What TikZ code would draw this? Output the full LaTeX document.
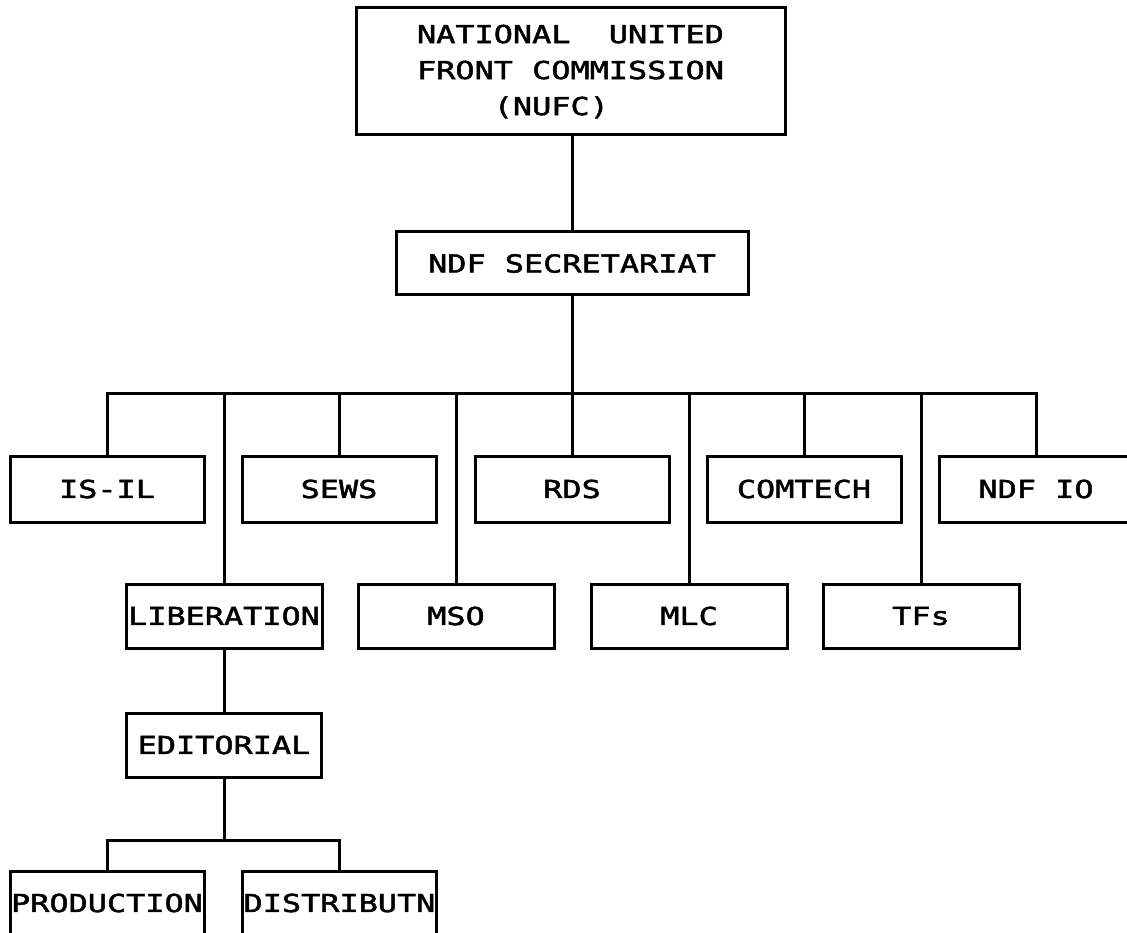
\documentclass[tikz,border=0pt]{standalone}
\usepackage{fontspec}
\newfontfamily\plotfont[FakeStretch=1.29,FakeBold=2]{DejaVu Sans Mono}
\begin{document}
\begin{tikzpicture}[x=1pt,y=-1pt,
        base/.style={draw,line width=3pt,inner sep=0pt,minimum height=64pt,
            font=\plotfont\fontsize{24.7}{36}\selectfont},
        unit/.style={base,minimum width=194pt},
        chief/.style={base,minimum width=429pt,minimum height=127pt,align=left},
        wire/.style={line width=3pt}]
    \useasboundingbox (0,0) rectangle (1127,933);
    % Commission and secretariat
    \node[chief] (nufc) at (570.5,71.5) {NATIONAL\ \ UNITED\\FRONT COMMISSION\\\phantom{NATI}(NUFC)};
    \node[base,minimum width=352pt,minimum height=63pt] (sec) at (572,263.5) {NDF SECRETARIAT};
    \coordinate (bus) at (572,393);
    % First row
    \node[unit,minimum height=66pt] (isil) at (107,489) {IS-IL};
    \node[unit,minimum height=66pt] (sews) at (339,489) {SEWS};
    \node[unit,minimum height=66pt] (rds) at (572,489) {RDS};
    \node[unit,minimum height=66pt] (comtech) at (804,489) {COMTECH};
    \node[unit,minimum height=66pt] (ndfio) at (1036,489) {NDF IO};
    % Second row
    \node[unit,minimum width=196pt] (lib) at (224,616) {LIBERATION};
    \node[unit,minimum width=196pt] (mso) at (456,616) {MSO};
    \node[unit,minimum width=196pt] (mlc) at (689,616) {MLC};
    \node[unit,minimum width=196pt] (tfs) at (921,616) {TFs};
    % Liberation branch
    \node[unit,minimum width=195pt] (edit) at (224,745) {EDITORIAL};
    \coordinate (fork) at (224,840);
    \node[unit] (prod) at (107,903) {PRODUCTION};
    \node[unit] (dist) at (339.5,903) {DISTRIBUTN};
    % Connectors
    \draw[wire] (nufc.south -| sec) -- (sec.north);
    \draw[wire] (sec.south) -- (bus);
    \draw[wire] (isil.north) |- (bus) -| (ndfio.north);
    \draw[wire] (sews.north) -- (sews |- bus) (rds.north) -- (bus) (comtech.north) -- (comtech |- bus);
    \draw[wire] (lib.north) -- (lib |- bus) (mso.north) -- (mso |- bus) (mlc.north) -- (mlc |- bus) (tfs.north) -- (tfs |- bus);
    \draw[wire] (lib.south) -- (edit.north);
    \draw[wire] (edit.south) -- (fork);
    \draw[wire] (prod.north) |- (fork) -| (dist.north);
\end{tikzpicture}
\end{document}
